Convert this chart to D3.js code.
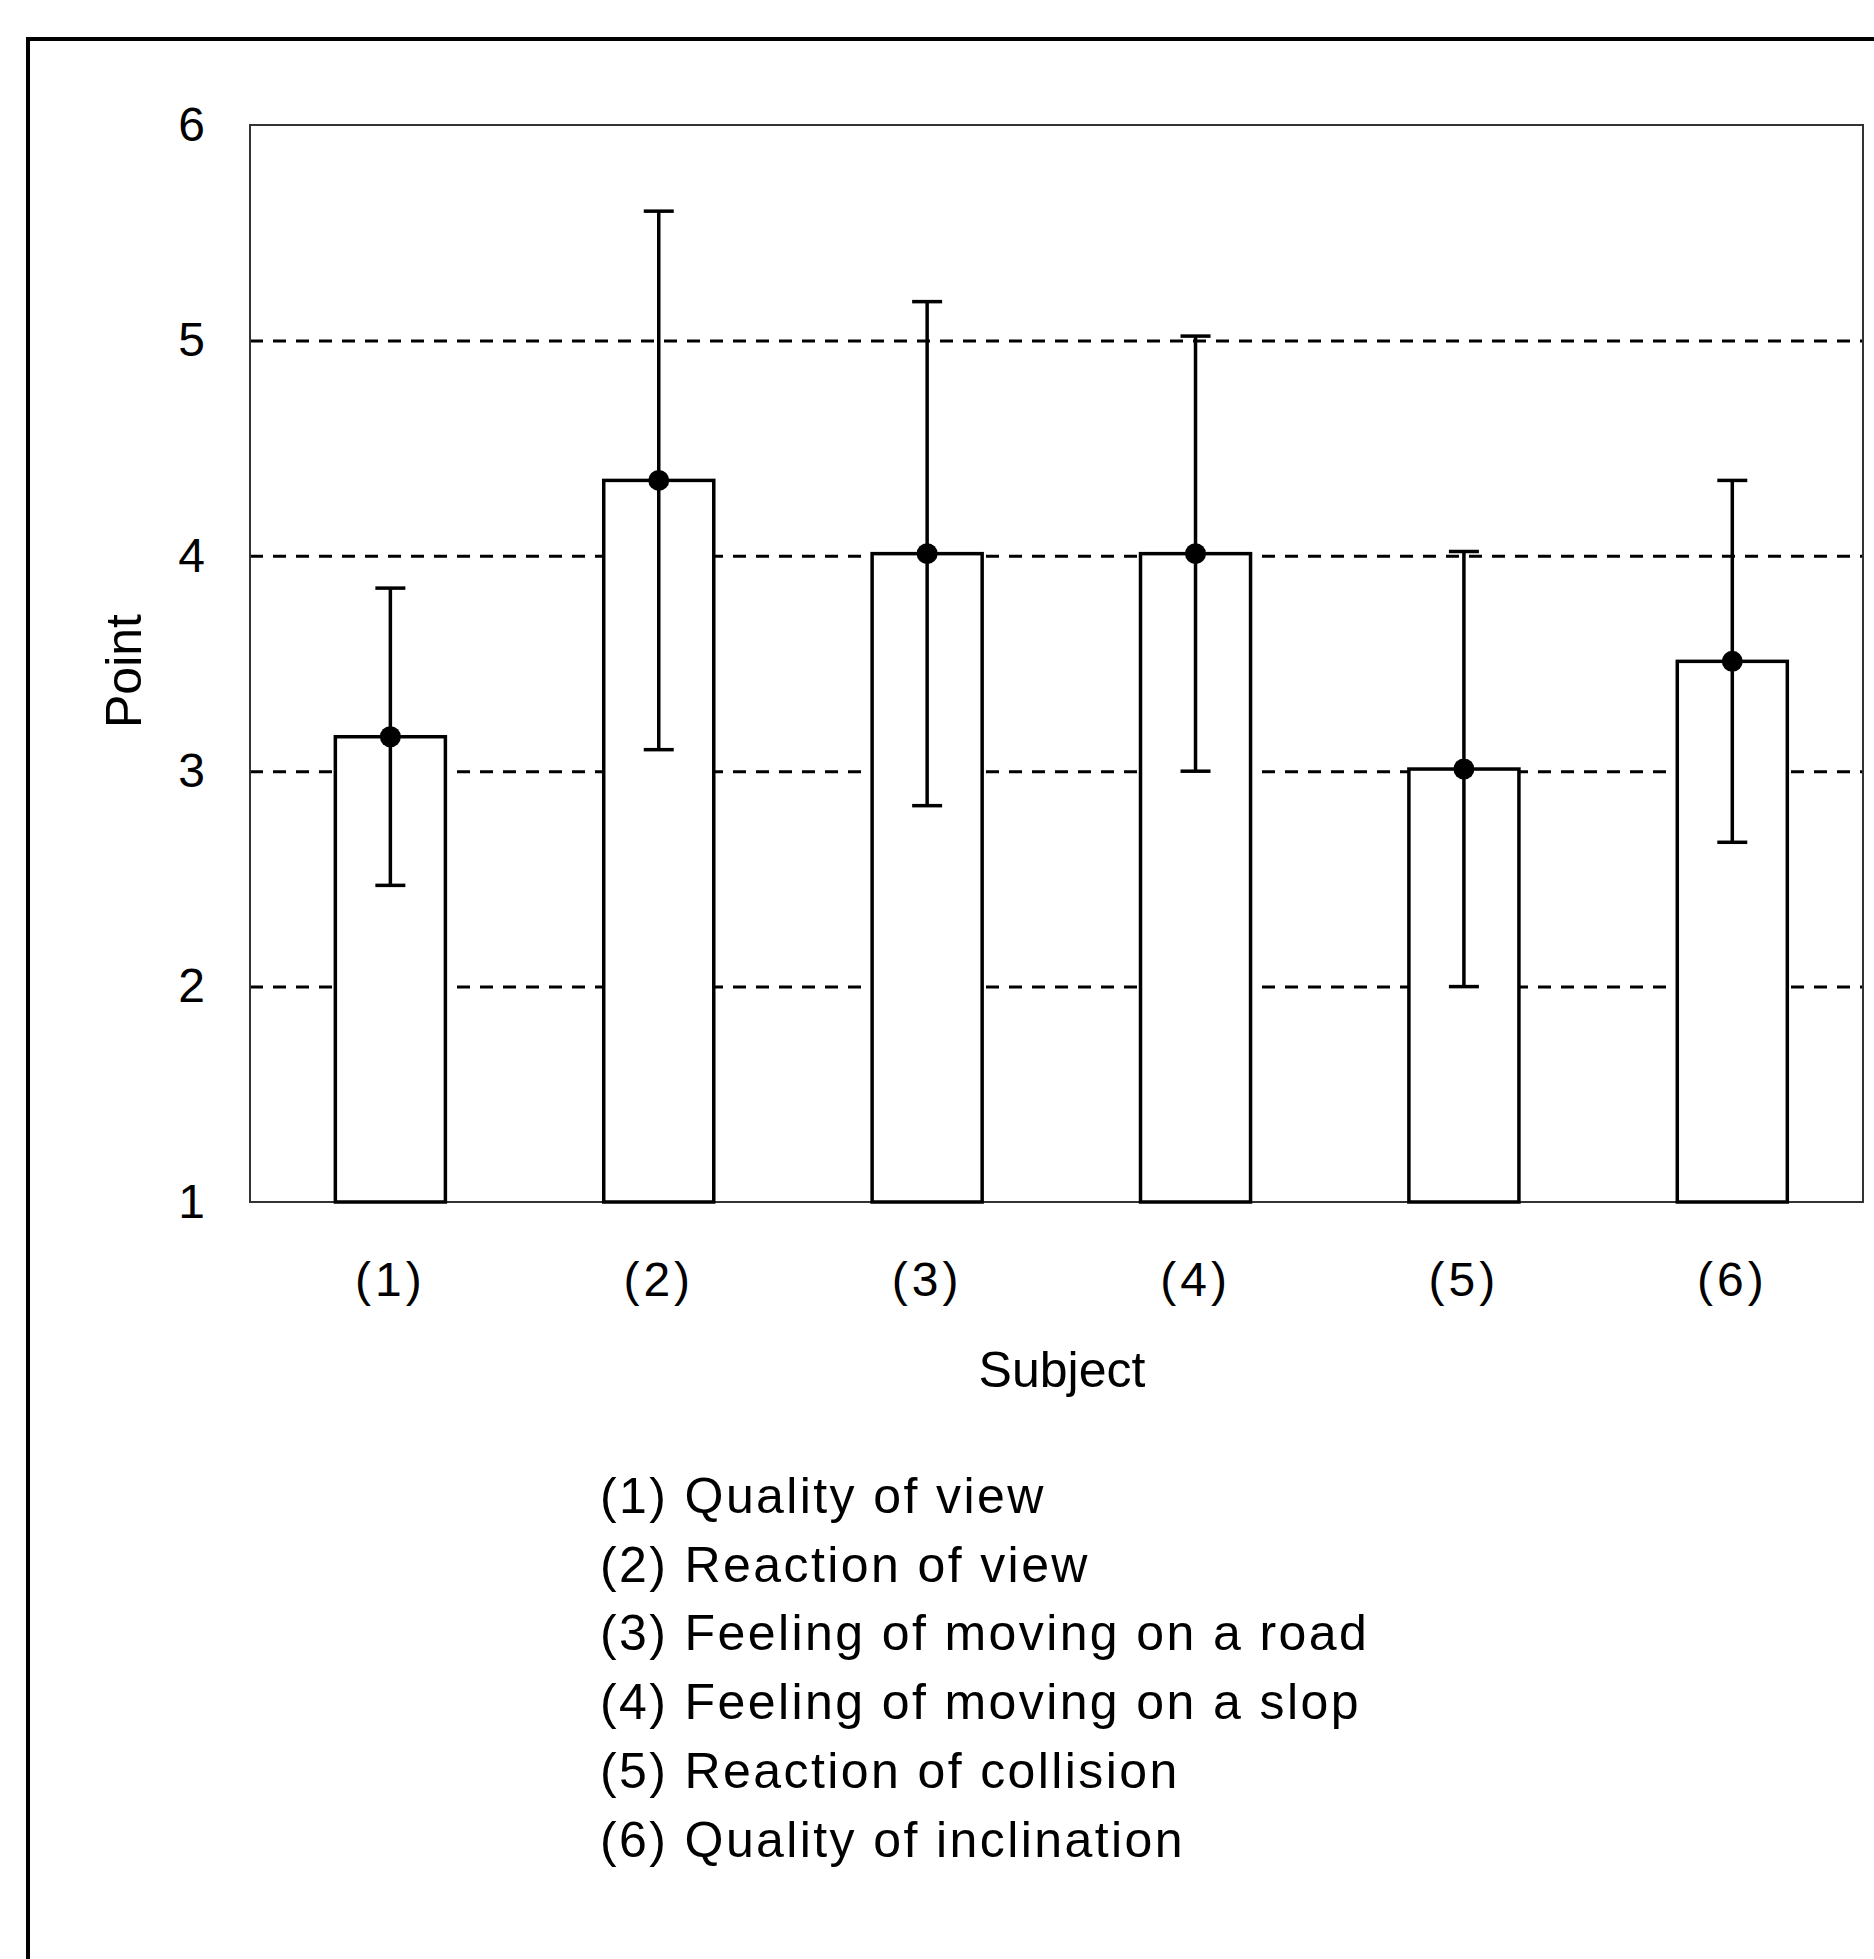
<!DOCTYPE html>
<html>
<head>
<meta charset="utf-8">
<script src="https://cdn.jsdelivr.net/npm/d3@7"></script>
<style>
  body { margin: 0; background: #fff; }
  svg { display: block; }
</style>
</head>
<body>
<div id="chart"></div>
<script>
// data
let categories = ["(1)", "(2)", "(3)", "(4)", "(5)", "(6)"];
let means = [3.16, 4.35, 4.01, 4.01, 3.01, 3.51];
let sds = [0.69, 1.25, 1.17, 1.01, 1.01, 0.84];
let yTicks = [1, 2, 3, 4, 5, 6];
let gridTicks = [2, 3, 4, 5];
let legendItems = [
  "(1) Quality of view",
  "(2) Reaction of view",
  "(3) Feeling of moving on a road",
  "(4) Feeling of moving on a slop",
  "(5) Reaction of collision",
  "(6) Quality of inclination"
];

let W = 1874, H = 1959;
let margin = { top: 125, left: 250, bottom: 757, right: 11 };
let width = W - margin.left - margin.right;
let height = H - margin.top - margin.bottom;
let font = "'Liberation Sans', Arial, sans-serif";

let svg = d3.select("#chart").append("svg")
  .attr("width", W)
  .attr("height", H)
  .style("font-family", font);

// outer frame (left + top only, rest is cut off)
svg.append("path")
  .attr("d", `M28,${H} L28,39 L${W},39`)
  .attr("fill", "none")
  .attr("stroke", "#000")
  .attr("stroke-width", 4);

let g = svg.append("g").attr("transform", `translate(${margin.left},${margin.top})`);

let x = d3.scaleBand()
  .domain(categories)
  .range([0, width])
  .paddingInner(0.59)
  .paddingOuter(0.3)
  .align(0.53);

let y = d3.scaleLinear()
  .domain([1, 6])
  .range([height, 0]);

// dashed gridlines
g.append("g")
  .attr("class", "y-grid")
  .call(d3.axisLeft(y).tickValues(gridTicks).tickSize(-width).tickFormat(""))
  .call(s => s.select(".domain").remove())
  .selectAll("line")
  .attr("stroke", "#000")
  .attr("stroke-width", 3)
  .attr("stroke-dasharray", "13,10");

// plot area border
g.append("rect")
  .attr("width", width)
  .attr("height", height)
  .attr("fill", "none")
  .attr("stroke", "#333")
  .attr("stroke-width", 2);

let data = categories.map((c, i) => ({ cat: c, mean: means[i], sd: sds[i] }));

// bars
g.selectAll(".bar")
  .data(data)
  .enter().append("rect")
  .attr("class", "bar")
  .attr("x", d => x(d.cat))
  .attr("y", d => y(d.mean))
  .attr("width", x.bandwidth())
  .attr("height", d => height - y(d.mean))
  .attr("fill", "#fff")
  .attr("stroke", "#000")
  .attr("stroke-width", 3.5);

// error bars
let cap = 15;
let err = g.selectAll(".err")
  .data(data)
  .enter().append("g")
  .attr("class", "err")
  .attr("transform", d => `translate(${x(d.cat) + x.bandwidth() / 2},0)`);

err.append("line")
  .attr("y1", d => y(d.mean + d.sd))
  .attr("y2", d => y(d.mean - d.sd))
  .attr("stroke", "#000")
  .attr("stroke-width", 3.5);

err.append("line")
  .attr("x1", -cap).attr("x2", cap)
  .attr("y1", d => y(d.mean + d.sd))
  .attr("y2", d => y(d.mean + d.sd))
  .attr("stroke", "#000")
  .attr("stroke-width", 3.5);

err.append("line")
  .attr("x1", -cap).attr("x2", cap)
  .attr("y1", d => y(d.mean - d.sd))
  .attr("y2", d => y(d.mean - d.sd))
  .attr("stroke", "#000")
  .attr("stroke-width", 3.5);

err.append("circle")
  .attr("cy", d => y(d.mean))
  .attr("r", 10.5)
  .attr("fill", "#000");

// Y axis labels
g.append("g")
  .attr("class", "y-axis")
  .call(d3.axisLeft(y).tickValues(yTicks).tickSize(0).tickPadding(45).tickFormat(d3.format("d")))
  .call(s => s.select(".domain").remove())
  .selectAll("text")
  .attr("font-family", font)
  .attr("font-size", "48px")
  .attr("fill", "#000");

// X axis labels
g.append("g")
  .attr("class", "x-axis")
  .attr("transform", `translate(0,${height})`)
  .call(d3.axisBottom(x).tickSize(0).tickPadding(60))
  .call(s => s.select(".domain").remove())
  .selectAll("text")
  .attr("font-family", font)
  .attr("font-size", "48px")
  .attr("letter-spacing", "4px")
  .attr("fill", "#000");

// axis titles
svg.append("text")
  .attr("transform", `translate(141,671) rotate(-90)`)
  .attr("text-anchor", "middle")
  .attr("font-size", "50px")
  .text("Point");

svg.append("text")
  .attr("x", 1062)
  .attr("y", 1387)
  .attr("text-anchor", "middle")
  .attr("font-size", "50px")
  .text("Subject");

// legend text
svg.append("g")
  .attr("class", "legend")
  .selectAll("text")
  .data(legendItems)
  .enter().append("text")
  .attr("x", 600)
  .attr("y", (d, i) => 1513 + i * 68.7)
  .attr("font-size", "50px")
  .attr("letter-spacing", "2.4px")
  .text(d => d);
</script>
</body>
</html>
